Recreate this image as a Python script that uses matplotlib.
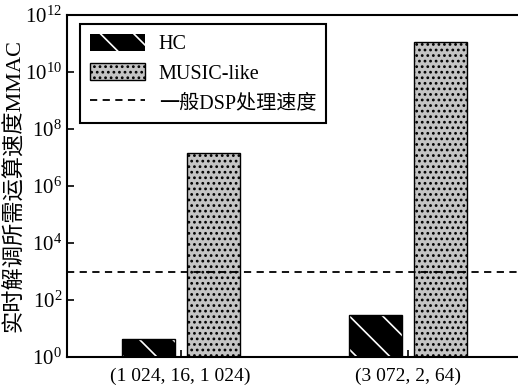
import matplotlib
matplotlib.use("Agg")
import matplotlib.pyplot as plt
import numpy as np
from matplotlib.patches import Patch
from matplotlib.lines import Line2D

# data (MMAC, log scale)
groups = ["(1 024, 16, 1 024)", "(3 072, 2, 64)"]
hc = [3.3, 29]
music_like = [1.4e7, 1.15e11]
dsp_speed = 1e3

plt.rcParams['font.family'] = ['Liberation Serif', 'Noto Sans CJK SC']
plt.rcParams['mathtext.fontset'] = 'stix'
plt.rcParams['hatch.linewidth'] = 1.2

fig = plt.figure(figsize=(5.18, 3.89), dpi=100)
ax = fig.add_axes([67 / 518, 1 - 357 / 389, 455 / 518, 342 / 389])

x = np.arange(1, len(groups) + 1)
w = 0.233
off = 0.143

# HC bars: black with white diagonal stripes
ax.bar(x - off, hc, w, bottom=1, color='black', edgecolor='white',
       hatch='\\', linewidth=0, zorder=2)
ax.bar(x - off, hc, w, bottom=1, fill=False, edgecolor='black',
       linewidth=1.0, zorder=3)
# MUSIC-like bars: grey with black dots
ax.bar(x + off, music_like, w, bottom=1, color='#c4c4c4', edgecolor='black',
       hatch='...', linewidth=1.0, zorder=2)

ax.axhline(dsp_speed, color='black', linestyle=(0, (4, 3)), linewidth=1.3, zorder=4)

ax.set_yscale('log')
ax.set_ylim(1, 1e12)
ax.set_xlim(0.5, 2.5)
ax.set_yticks([10.0 ** k for k in range(0, 13, 2)])
ax.yaxis.set_minor_locator(matplotlib.ticker.NullLocator())
ax.set_xticks(x)
ax.set_xticklabels(groups)
ax.tick_params(axis='both', direction='in', labelsize=14, length=5, width=1.2)
ax.tick_params(axis='y', labelsize=15)
ax.tick_params(axis='x', pad=8)
ax.spines['right'].set_visible(False)
for s in ['left', 'top', 'bottom']:
    ax.spines[s].set_linewidth(1.5)

ax.set_ylabel('实时解调所需运算速度MMAC', fontsize=16, labelpad=1)

handles = [
    Patch(facecolor='black', edgecolor='white', hatch='\\', linewidth=0),
    Patch(facecolor='#c4c4c4', edgecolor='black', hatch='...', linewidth=1.0),
    Line2D([0], [0], color='black', linestyle=(0, (4, 3)), linewidth=1.3),
]
leg = ax.legend(handles, ['HC', 'MUSIC-like', '一般DSP处理速度'],
                loc='upper left', bbox_to_anchor=(0.029, 0.974), fontsize=14.5,
                fancybox=False, edgecolor='black', framealpha=1,
                handlelength=2.7, handleheight=0.9, labelspacing=0.45,
                borderpad=0.5, handletextpad=0.7, borderaxespad=0)
leg.get_frame().set_linewidth(1.5)

fig.savefig('out.png', dpi=100)
